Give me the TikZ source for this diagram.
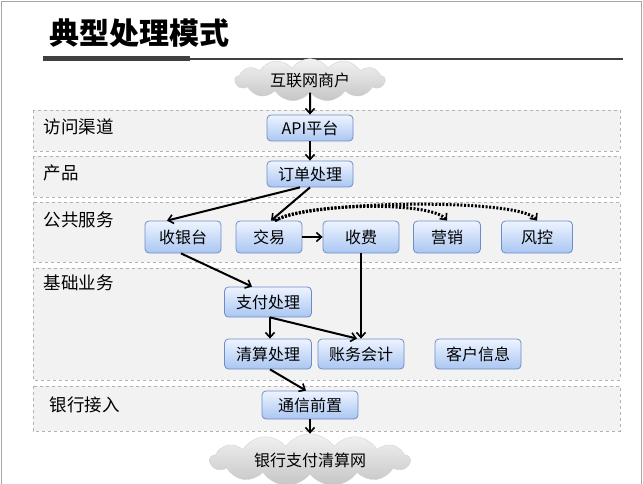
\documentclass[tikz,border=0pt]{standalone}
\usepackage{fontspec}
\newfontfamily\cjk{Noto Sans CJK SC}
\usetikzlibrary{shapes.symbols, arrows.meta}
\definecolor{boxline}{RGB}{110,140,200}
\definecolor{boxtop}{RGB}{238,244,255}
\definecolor{boxbot}{RGB}{170,198,242}
\tikzset{
    box/.style={rectangle, rounded corners=4pt, draw=boxline, line width=0.8pt,
        top color=boxtop, bottom color=boxbot, minimum height=26pt,
        align=center, font=\cjk\fontsize{16}{18}\selectfont, inner sep=2pt},
    layer/.style={draw=gray!60, dashed, fill=gray!10, line width=0.7pt},
    lab/.style={anchor=west, font=\cjk\fontsize{17.5}{20}\selectfont},
    cloudy/.style={cloud, cloud puffs=13, cloud puff arc=110, aspect=5, draw=gray!35,
        top color=gray!10, bottom color=gray!45, inner sep=2pt,
        font=\cjk\fontsize{16}{18}\selectfont},
    arr/.style={-{Straight Barb[length=5pt, width=9pt, line width=1.6pt]}, line width=2pt},
    dotarr/.style={-{Straight Barb[length=5pt, width=9pt, line width=1.6pt]}, line width=3pt,
        dash pattern=on 2pt off 1.6pt},
}

\begin{document}
\begin{tikzpicture}[x=1pt, y=-1pt]
\useasboundingbox (0,0) rectangle (643,484);
\draw[gray!70, line width=1pt] (1.5,1.5) rectangle (641.5,484);

% Title
\node[anchor=west, inner sep=0pt, font=\cjk\bfseries\fontsize{30}{32}\selectfont] (title) at (49,33) {典型处理模式};
\draw[black!75, line width=5pt] (43,59) -- (190,59);
\draw[black!75, line width=1.2pt] (190,59) -- (623,59);

% Layers
\draw[layer] (33,110) rectangle (620,151);
\draw[layer] (33,156) rectangle (620,197);
\draw[layer] (33,202) rectangle (620,262);
\draw[layer] (33,268) rectangle (620,380);
\draw[layer] (33,386) rectangle (620,431);
\node[lab] (l1) at (40,127) {访问渠道};
\node[lab] (l2) at (40,173) {产品};
\node[lab] (l3) at (40,220) {公共服务};
\node[lab] (l4) at (40,283) {基础业务};
\node[lab] (l5) at (46,405) {银行接入};

% Clouds
\node[cloudy, minimum width=150pt, minimum height=32pt] (net) at (310,80) {互联网商户};
\node[cloudy, minimum width=200pt, minimum height=34pt] (bank) at (310,460) {银行支付清算网};

% Nodes
\node[box, minimum width=86pt] (api) at (310,128) {API平台};
\node[box, minimum width=86pt] (order) at (310,174) {订单处理};
\node[box, minimum width=76pt, minimum height=32pt] (cash) at (183,237) {收银台};
\node[box, minimum width=66pt, minimum height=32pt] (trade) at (269,237) {交易};
\node[box, minimum width=76pt, minimum height=32pt] (fee) at (361,237) {收费};
\node[box, minimum width=67pt, minimum height=32pt] (mkt) at (447,237) {营销};
\node[box, minimum width=71pt, minimum height=32pt] (risk) at (537,237) {风控};
\node[box, minimum width=87pt, minimum height=30pt] (pay) at (268,302) {支付处理};
\node[box, minimum width=87pt, minimum height=30pt] (clear) at (268,354) {清算处理};
\node[box, minimum width=86pt, minimum height=30pt] (acct) at (361,354) {账务会计};
\node[box, minimum width=86pt, minimum height=30pt] (cust) at (478,354) {客户信息};
\node[box, minimum width=96pt, minimum height=28pt] (front) at (310,405) {通信前置};

% Arrows
\draw[arr] (net.south) -- (api.north);
\draw[arr] (api) -- (order);
\draw[arr] ([xshift=-10pt]order.south) -- ([xshift=-16pt]cash.north);
\draw[arr] (order.south) -- ([xshift=2pt]trade.north);
\draw[arr] (trade) -- (fee);
\draw[dotarr] ([xshift=6pt]trade.north) .. controls (300,204) and (430,200) .. (mkt.north);
\draw[dotarr] ([xshift=6pt]trade.north) .. controls (310,200) and (520,198) .. (risk.north);
\draw[arr] ([xshift=-2pt]cash.south) -- ([xshift=-16pt]pay.north);
\draw[arr] (fee.south) -- (acct.north);
\draw[arr] ([xshift=2pt]pay.south) -- ([xshift=2pt]clear.north);
\draw[arr] ([xshift=2pt]pay.south) -- ([xshift=-4pt]acct.north);
\draw[arr] ([xshift=2pt]clear.south) -- ([xshift=-4pt]front.north);
\draw[arr] (front) -- (bank);

\end{tikzpicture}
\end{document}
